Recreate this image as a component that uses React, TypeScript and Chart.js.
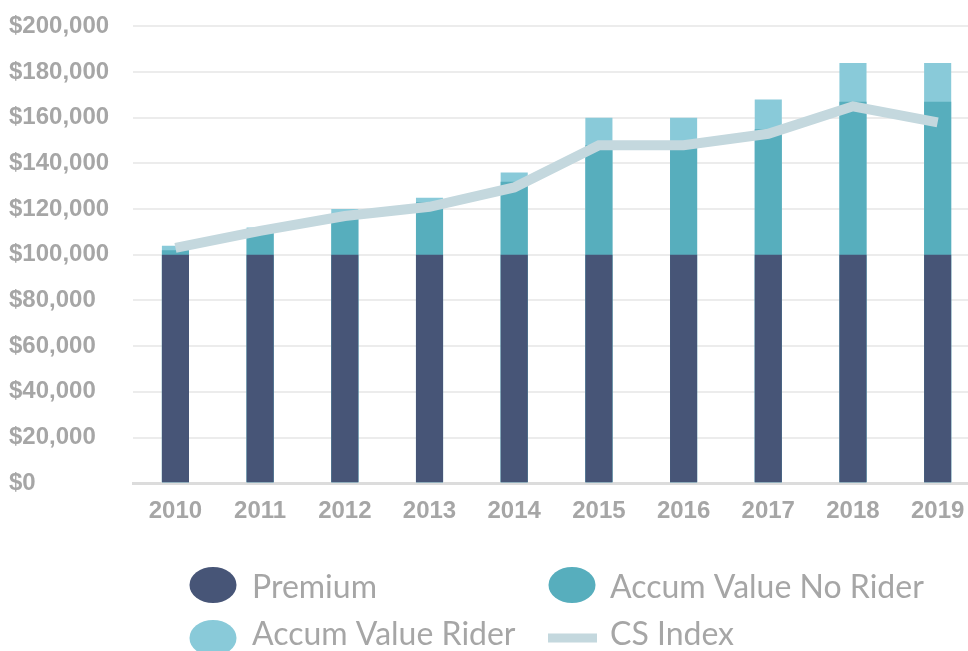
import React, { useEffect, useRef } from "react";
import { Chart, registerables } from "chart.js";

Chart.register(...registerables);

const years = ["2010", "2011", "2012", "2013", "2014", "2015", "2016", "2017", "2018", "2019"];
const premium = [100000, 100000, 100000, 100000, 100000, 100000, 100000, 100000, 100000, 100000];
const accumNoRider = [102000, 110000, 118000, 123000, 132000, 148000, 148000, 155000, 167000, 167000];
const accumRider = [104000, 112000, 120000, 125000, 136000, 160000, 160000, 168000, 184000, 184000];
const csIndex = [103000, 110500, 117000, 121000, 129500, 148000, 148000, 153000, 165000, 158000];
const yMin = 0;
const yMax = 200000;
const yStep = 20000;

const seriesNames = ["Premium", "Accum Value No Rider", "Accum Value Rider", "CS Index"];
const colors = ["#475577", "#57aebd", "#89cad9", "#c4d8de"];

const tickColor = "#a6a6a6";
const axisFont = { family: "'Liberation Sans', Arial, sans-serif", weight: "bold" as const, size: 24 };

const legendLayout = {
  symbolX: [213, 572],
  textX: [252, 610],
  symbolY: [585, 638],
  textY: [598, 645],
};

const legendPlugin = {
  id: "customLegend",
  afterDraw(chart: any) {
    const ctx: CanvasRenderingContext2D = chart.ctx;
    ctx.save();
    ctx.font = "32px Lato, 'Open Sans', sans-serif";
    ctx.textBaseline = "alphabetic";
    ctx.textAlign = "left";
    seriesNames.forEach((name, i) => {
      const col = i % 2;
      const row = Math.floor(i / 2);
      const sx = legendLayout.symbolX[col];
      const sy = legendLayout.symbolY[row];
      ctx.fillStyle = colors[i];
      if (i === 3) {
        ctx.fillRect(sx - 24, sy - 4.5, 49, 9);
      } else {
        ctx.beginPath();
        ctx.ellipse(sx, sy, 23.5, 18, 0, 0, Math.PI * 2);
        ctx.fill();
      }
      ctx.fillStyle = tickColor;
      ctx.fillText(name, legendLayout.textX[col], legendLayout.textY[row]);
    });
    ctx.restore();
  },
};

export default function App() {
  const canvasRef = useRef<HTMLCanvasElement | null>(null);

  useEffect(() => {
    if (!canvasRef.current) return;
    const chart = new Chart(canvasRef.current, {
      type: "bar",
      data: {
        labels: years,
        datasets: [
          { label: seriesNames[0], data: premium, backgroundColor: colors[0], order: 1 },
          { label: seriesNames[1], data: accumNoRider, backgroundColor: colors[1], order: 2 },
          { label: seriesNames[2], data: accumRider, backgroundColor: colors[2], order: 3 },
          {
            type: "line",
            label: seriesNames[3],
            data: csIndex,
            borderColor: colors[3],
            backgroundColor: colors[3],
            borderWidth: 10,
            pointRadius: 0,
            tension: 0,
            fill: false,
            order: 0,
          } as any,
        ],
      },
      options: {
        animation: false,
        responsive: false,
        maintainAspectRatio: false,
        layout: { padding: { left: 9, top: 2, right: 0, bottom: 111 } },
        datasets: { bar: { barPercentage: 0.32, categoryPercentage: 1 } },
        plugins: { legend: { display: false }, tooltip: { enabled: false } },
        scales: {
          x: {
            stacked: true,
            offset: true,
            grid: { display: false, drawTicks: false },
            border: { display: true, color: "#dcdcdc", width: 3 },
            ticks: { color: tickColor, font: axisFont, padding: 14 },
          },
          y: {
            stacked: false,
            min: yMin,
            max: yMax,
            grid: { color: "#ececec", lineWidth: 2, drawTicks: false },
            border: { display: false },
            ticks: {
              stepSize: yStep,
              color: tickColor,
              font: axisFont,
              padding: 12,
              crossAlign: "far",
              callback: (v: any) => "$" + Number(v).toLocaleString("en-US"),
            },
          },
        },
      },
      plugins: [legendPlugin],
    });
    return () => chart.destroy();
  }, []);

  return (
    <div style={{ position: "fixed", left: 0, top: 0, width: 968, height: 651, overflow: "hidden", background: "#fff" }}>
      <canvas ref={canvasRef} width={980} height={651} style={{ display: "block", width: 980, height: 651 }} />
    </div>
  );
}
